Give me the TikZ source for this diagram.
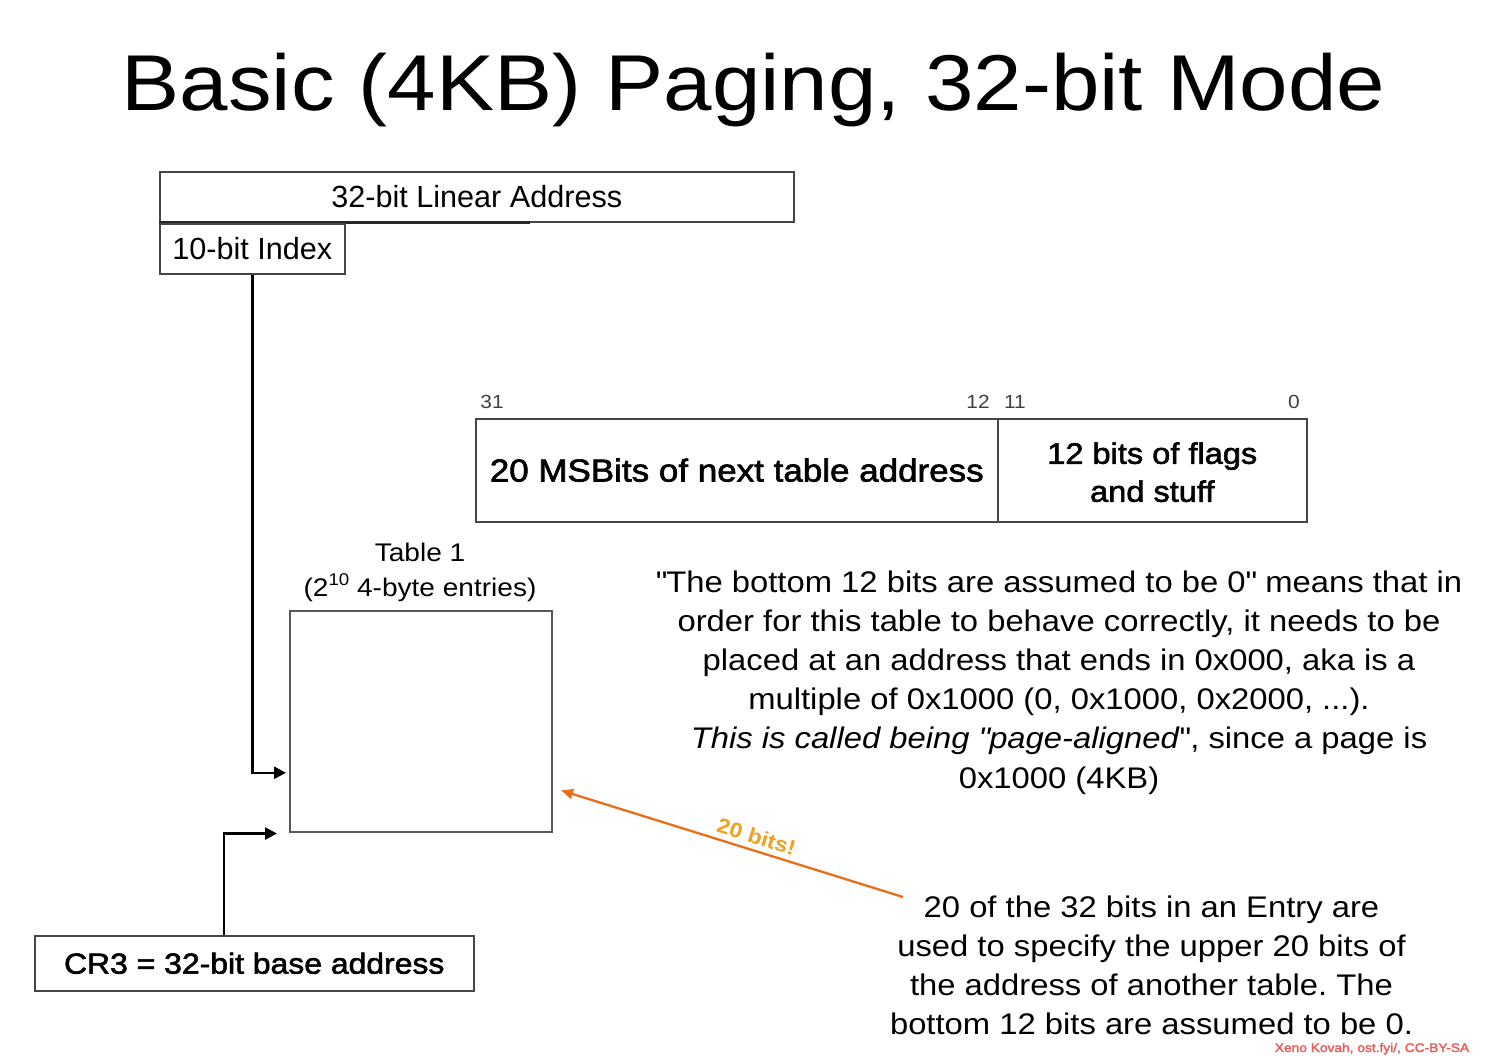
\documentclass[tikz,border=0pt]{standalone}
\usepackage{fontspec}
\setmainfont{Liberation Sans}[FakeStretch=1.1]
\newfontfamily\narrowsans{Liberation Sans}
\newfontfamily\medsans{Liberation Sans}[FakeStretch=1.1,FakeBold=2]
\newfontfamily\headsans{Liberation Sans}[FakeStretch=1.1,BoldFont={Liberation Sans Bold}]
\usetikzlibrary{arrows.meta}
\definecolor{edgegray}{RGB}{70,70,70}
\definecolor{arroworange}{RGB}{232,110,25}
\definecolor{labelorange}{RGB}{242,160,30}
\definecolor{markred}{RGB}{236,90,90}
\newcommand{\dq}{\textquotedbl}
\frenchspacing

\begin{document}
\begin{tikzpicture}[x=1pt,y=-1pt,
  txt/.style={inner sep=0pt, anchor=base},
  body/.style={txt, align=center, font=\fontsize{29.8}{39.2}\selectfont},
  field/.style={draw=edgegray, line width=1.5pt, inner sep=0pt, anchor=north west},
  conn/.style={line width=2.5pt, -{Triangle[length=12pt,width=12pt]}},
]
\useasboundingbox[fill=white] (0,0) rectangle (1495,1055);

% heading
\node[txt, font=\fontsize{79.2}{90}\selectfont] (title) at (753.5,110)
  {Basic (4KB) Paging, 32-bit Mode};

% linear address and its index field
\node[field, minimum width=634pt, minimum height=50pt,
      font=\narrowsans\fontsize{30.6}{36}\selectfont, text height=22pt, text depth=0pt]
  (la) at (159,171) {32-bit Linear Address};
\draw[line width=2.2pt, black!85] (la.south west) -- ++(371,0);
\node[field, minimum width=185pt, minimum height=50pt,
      font=\narrowsans\fontsize{30.6}{36}\selectfont, text height=22pt, text depth=0pt]
  (idx) at (159,223) {10-bit Index};

% page-table entry layout
\node[field, minimum width=522pt, minimum height=103pt,
      font=\medsans\fontsize{31.8}{36}\selectfont, text height=22.6pt, text depth=0pt]
  (hi) at (475,418) {20 MSBits of next table address};
\node[field, minimum width=309pt, minimum height=103pt, align=center,
      font=\medsans\fontsize{29.6}{38}\selectfont, text height=63pt, text depth=0pt]
  (lo) at (997,418) {12 bits of flags\\and stuff};
\foreach \n/\x/\t in {b31/492/31, b12/978/12, b11/1015/11, b0/1294/0}
  \node[txt, font=\fontsize{19}{22}\selectfont, text=black!75] (\n) at (\x,408) {\t};

% table 1
\node[draw=black!65, line width=1.5pt, minimum width=262pt, minimum height=221pt,
      anchor=north west, inner sep=0pt] (tbl) at (289,610) {};
\node[txt, align=center, font=\fontsize{25.5}{35}\selectfont] (tbllabel) at (420,596)
  {Table 1\\(2\raisebox{0.42em}{\fontsize{17}{17}\selectfont 10} 4-byte entries)};

% CR3
\node[field, minimum width=439pt, minimum height=55pt,
      font=\medsans\fontsize{29}{34}\selectfont, text height=20.8pt, text depth=0pt]
  (cr3) at (34,935) {CR3 = 32-bit base address};

% connectors into the table
\draw[conn, shorten >=3pt] (idx.south) |- ([yshift=-51.5pt]tbl.west);
\draw[conn, shorten >=12pt] ([xshift=-30.5pt]cr3.north) |- ([yshift=-1pt]tbl.south west);

% explanation
\node[body] (expl) at (1059,788)
  {\dq The bottom 12 bits are assumed to be 0\dq{} means that in\\
   order for this table to behave correctly, it needs to be\\
   placed at an address that ends in 0x000, aka is a\\
   multiple of 0x1000 (0, 0x1000, 0x2000, ...).\\
   \textit{This is called being \dq page-aligned}\dq, since a page is\\
   0x1000 (4KB)};

\node[body, font=\fontsize{29.8}{39}\selectfont] (entry) at (1151.5,1034)
  {20 of the 32 bits in an Entry are\\
   used to specify the upper 20 bits of\\
   the address of another table. The\\
   bottom 12 bits are assumed to be 0.};

% 20-bit pointer arrow
\coordinate (noteend) at (903,897);
\draw[line width=2.3pt, draw=arroworange, -{Triangle[length=12pt,width=10pt]}, shorten >=9pt]
  (noteend) -- node[pos=0.43, sloped, anchor=south, yshift=5pt, inner sep=0.5pt,
                    font=\headsans\bfseries\fontsize{21}{24}\selectfont, text=labelorange]
  (bitslabel) {20 bits!} ([yshift=-66.5pt]tbl.east);

% credit line
\node[txt, font=\medsans\fontsize{12.5}{14}\selectfont, text=markred] (credit) at (1372,1052)
  {Xeno Kovah, ost.fyi/, CC-BY-SA};
\end{tikzpicture}
\end{document}
